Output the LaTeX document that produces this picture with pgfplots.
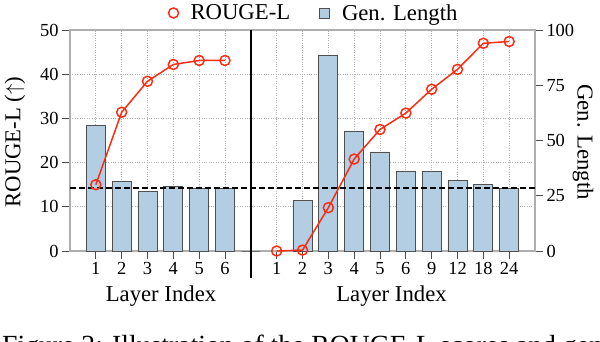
\documentclass[border=0pt]{standalone}
\usepackage{pgfplots}
\usepackage{pgfplotstable}
\pgfplotsset{compat=1.18}
\usepackage{fontspec}
\setmainfont{Liberation Serif}
\definecolor{rred}{RGB}{250,45,20}
\definecolor{barblue}{RGB}{179,205,227}
\definecolor{baredge}{RGB}{80,80,80}
\definecolor{spine}{RGB}{175,175,175}
\pgfplotsset{sqlegend/.style={legend image code/.code={\draw[##1] (0bp,-5bp) rectangle (10bp,5bp);}}}

\pgfplotstableread{
x len
0 56.9
1 31.6
2 27.0
3 29.3
4 28.1
5 28.1
6 0
8 22.9
9 88.4
10 54.0
11 44.8
12 36.0
13 35.8
14 32.1
15 30.3
16 28.5
}\lentable

\pgfplotstableread{
x rouge
0 15.0
1 31.4
2 38.4
3 42.2
4 43.1
5 43.1
}\rougeleft

\pgfplotstableread{
x rouge
7 0.0
8 0.2
9 9.8
10 20.8
11 27.5
12 31.2
13 36.6
14 41.1
15 47.0
16 47.4
}\rougeright

\newcommand{\tickfont}{\fontsize{18.5}{20}\selectfont}
\newcommand{\labfont}{\fontsize{22.8}{25}\selectfont}

\begin{document}
\begin{tikzpicture}
\path[use as bounding box] (0,0) rectangle (600bp,342bp);

% right axis (Gen. Length)
\begin{axis}[
  at={(70bp,91bp)}, anchor=south west,
  scale only axis, width=465bp, height=221bp,
  xmin=-1, xmax=17, ymin=0, ymax=100,
  axis x line=none, axis y line*=right,
  ytick={0,25,50,75,100},
  axis line style={spine, line width=1.5bp},
  tick style={gray!60!black, line width=0.8bp},
  tick align=outside, major tick length=8bp,
  /pgf/number format/assume math mode=true,
  ticklabel style={font=\tickfont},
]
\addplot[draw=none] coordinates {(0,0)};
\end{axis}

% main axis (ROUGE-L)
\begin{axis}[
  at={(70bp,91bp)}, anchor=south west,
  scale only axis, width=465bp, height=221bp,
  xmin=-1, xmax=17, ymin=0, ymax=50,
  xtick={0,1,2,3,4,5,7,8,9,10,11,12,13,14,15,16},
  xticklabels={1,2,3,4,5,6,1,2,3,4,5,6,9,12,18,24},
  ytick={0,10,20,30,40,50},
  xtick pos=bottom, ytick pos=left,
  grid=major, grid style={dotted, gray!60, line width=0.7bp},
  axis line style={spine, line width=1.5bp},
  tick style={gray!60!black, line width=0.8bp},
  tick align=outside, major tick length=8bp,
  /pgf/number format/assume math mode=true,
  ticklabel style={font=\tickfont},
  clip=false,
  legend columns=2,
  legend style={draw=none, fill=none, font=\labfont,
    at={(0.5247,1.077)}, anchor=center,
    /tikz/every odd column/.append style={column sep=10bp},
    /tikz/every even column/.append style={column sep=27bp}},
]
\addplot[ybar, bar width=0.74, fill=barblue, draw=baredge, line width=0.8bp, forget plot]
  table[x=x, y expr=\thisrow{len}/2] {\lentable};
\addplot[black, dashed, line width=1.5bp, dash pattern=on 6bp off 3bp, forget plot]
  coordinates {(-1,14.2) (17,14.2)};
\addplot[black, line width=1.5bp, forget plot] coordinates {(6,-6.1) (6,50)};
\addplot[rred, line width=1.5bp, mark=o, mark size=5bp,
  mark options={fill=white, line width=1.5bp}, forget plot] table[x=x, y=rouge] {\rougeleft};
\addplot[rred, line width=1.5bp, mark=o, mark size=5bp,
  mark options={fill=white, line width=1.5bp}, forget plot] table[x=x, y=rouge] {\rougeright};
\addlegendimage{only marks, rred, mark=o, mark size=5bp, mark options={fill=white, line width=1.5bp}}
\addlegendentry{ROUGE-L}
\addlegendimage{fill=barblue, draw=baredge, line width=0.8bp, sqlegend}
\addlegendentry{Gen. Length}
\end{axis}

\node[font=\labfont, rotate=90, anchor=center] at (15bp,200bp) {ROUGE-L ($\uparrow$)};
\node[font=\labfont, rotate=-90, anchor=center] at (583bp,200bp) {Gen. Length};
\node[font=\labfont, anchor=base] at (161bp,40.3bp) {Layer Index};
\node[font=\labfont, anchor=base] at (391.5bp,40.3bp) {Layer Index};
\node[anchor=base west, inner sep=0, font=\fontsize{27.8}{30}\selectfont] at (2bp,-12.5bp)
  {Figure 2: Illustration of the ROUGE-L scores and generation length};
\end{tikzpicture}
\end{document}
